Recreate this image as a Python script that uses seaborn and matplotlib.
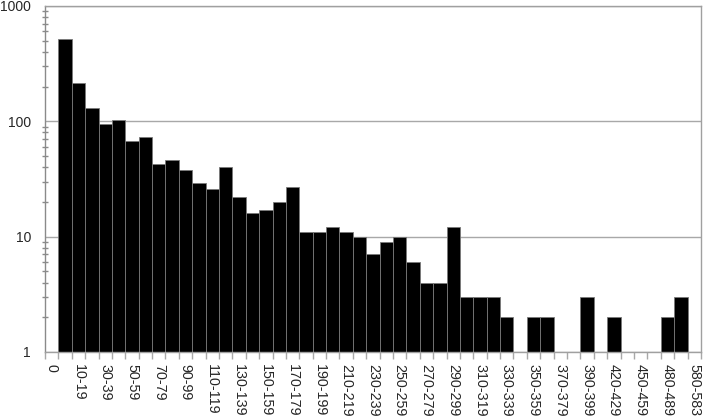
import matplotlib
matplotlib.use("Agg")
import matplotlib.pyplot as plt
import seaborn as sns
import numpy as np
from matplotlib.ticker import FixedLocator, NullFormatter, LogLocator

# bins (labels) and counts; 0 means no bar
bins = ["0", "1-9"] + [f"{d}-{d + 9}" for d in range(10, 400, 10)] + [
    "400-419", "420-429", "430-449", "450-459", "460-479", "480-489", "490-579", "580-583"]
counts = [0, 520, 213, 131, 94, 103, 68, 73, 43, 46,
          38, 29, 26, 40, 22, 16, 17, 20, 27, 11,
          11, 12, 11, 10, 7, 9, 10, 6, 4, 4,
          12, 3, 3, 3, 2, 0, 2, 2, 0, 0,
          3, 0, 2, 0, 0, 0, 2, 3, 0]

sns.set_style("white")
plt.rcParams['font.family'] = ['Liberation Sans', 'DejaVu Sans']

fig = plt.figure(figsize=(7.03, 4.19), dpi=100)
ax = fig.add_axes([0.064, 0.16, 0.933, 0.826])

sns.barplot(x=bins, y=counts, order=bins, color="black", width=1.0,
            edgecolor="#7a7a7a", linewidth=0.6, saturation=1, ax=ax)
ax.set_yscale("log")
ax.set_ylim(1, 1000)
ax.set_xlim(-0.5, len(bins) - 0.5)

ax.set_axisbelow(True)
ax.yaxis.grid(True, which="major", color="#a8a8a8", linewidth=1.0)
ax.xaxis.grid(False)
for s in ax.spines.values():
    s.set_color("#a0a0a0")
    s.set_linewidth(1.0)
ax.spines["left"].set_color("#8a8a8a")

# y ticks
ax.yaxis.set_major_locator(FixedLocator([1, 10, 100, 1000]))
ax.set_yticklabels(["1", "10", "100", "1000"])
ax.yaxis.set_minor_locator(LogLocator(base=10, subs=np.arange(2, 10)))
ax.yaxis.set_minor_formatter(NullFormatter())
ax.tick_params(axis="y", which="major", direction="inout", length=8, width=1,
               color="#8a8a8a", labelsize=10, pad=6)
ax.tick_params(axis="y", which="minor", direction="inout", length=5, width=1,
               color="#8a8a8a", left=True)

# x: labels on every other bin, tick marks at bin boundaries
idx = list(range(0, len(bins), 2))
idx[-1] = len(bins) - 1
ax.xaxis.set_major_locator(FixedLocator(idx))
ax.set_xticklabels([bins[i] for i in idx], rotation=-90)
ax.xaxis.set_minor_locator(FixedLocator(np.arange(-0.5, len(bins), 1.0)))
ax.tick_params(axis="x", which="major", length=0, labelsize=10.3, pad=9)
ax.tick_params(axis="x", which="minor", direction="out", length=5, width=1,
               color="#a8a8a8", bottom=True)
ax.set_xlabel("")
ax.set_ylabel("")

fig.savefig("out.png", dpi=100)
